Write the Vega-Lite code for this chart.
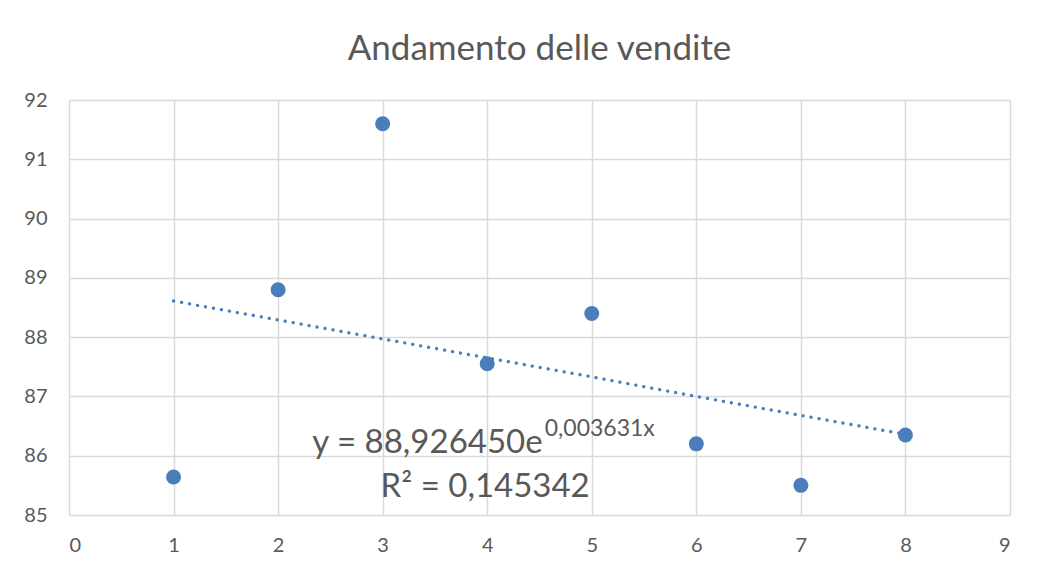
{
  "$schema": "https://vega.github.io/schema/vega-lite/v6.json",
  "width": 941,
  "height": 415,
  "autosize": {"type": "none"},
  "padding": {"left": 69, "top": 100, "right": 46, "bottom": 62},
  "background": "white",
  "title": {
    "text": "Andamento delle vendite",
    "font": "Lato",
    "fontSize": 35,
    "fontWeight": "normal",
    "color": "#595959",
    "anchor": "middle",
    "offset": 23
  },
  "config": {
    "view": {"stroke": null},
    "axis": {
      "labelFont": "Lato",
      "labelFontSize": 20,
      "labelColor": "#595959",
      "gridColor": "#d9d9d9",
      "gridWidth": 1.5,
      "domain": false,
      "ticks": false,
      "title": null,
      "format": "d"
    }
  },
  "datasets": {
    "pts": [
      {"x": 1, "y": 85.64},
      {"x": 2, "y": 88.8},
      {"x": 3, "y": 91.6},
      {"x": 4, "y": 87.55},
      {"x": 5, "y": 88.4},
      {"x": 6, "y": 86.2},
      {"x": 7, "y": 85.5},
      {"x": 8, "y": 86.35}
    ],
    "trend": [
      {"x": 1, "t": 88.61},
      {"x": 2, "t": 88.29},
      {"x": 3, "t": 87.97},
      {"x": 4, "t": 87.65},
      {"x": 5, "t": 87.33},
      {"x": 6, "t": 87.0},
      {"x": 7, "t": 86.68},
      {"x": 8, "t": 86.36}
    ]
  },
  "layer": [
    {
      "data": {"name": "trend"},
      "mark": {"type": "line", "color": "#4a7ebb", "strokeWidth": 3.3, "strokeCap": "round", "strokeDash": [0.1, 8]},
      "encoding": {
        "x": {"field": "x", "type": "quantitative", "scale": {"domain": [0, 9], "nice": false},
              "axis": {"values": [0,1,2,3,4,5,6,7,8,9], "labelPadding": 20, "grid": true}},
        "y": {"field": "t", "type": "quantitative", "scale": {"domain": [85, 92], "nice": false, "zero": false},
              "axis": {"values": [85,86,87,88,89,90,91,92], "labelPadding": 22, "grid": true}}
      }
    },
    {
      "data": {"name": "pts"},
      "mark": {"type": "circle", "color": "#4a7ebb", "opacity": 1, "size": 225},
      "encoding": {
        "x": {"field": "x", "type": "quantitative"},
        "y": {"field": "y", "type": "quantitative"}
      }
    },
    {
      "data": {"values": [{"label": "y = 88,926450e"}]},
      "mark": {"type": "text", "font": "Lato", "fontSize": 33, "color": "#595959", "align": "right", "baseline": "alphabetic"},
      "encoding": {
        "x": {"datum": 4.53, "type": "quantitative"},
        "y": {"datum": 86.05, "type": "quantitative"},
        "text": {"field": "label"}
      }
    },
    {
      "data": {"values": [{"label": "0,003631x"}]},
      "mark": {"type": "text", "font": "Lato", "fontSize": 23, "color": "#595959", "align": "left", "baseline": "alphabetic"},
      "encoding": {
        "x": {"datum": 4.55, "type": "quantitative"},
        "y": {"datum": 86.33, "type": "quantitative"},
        "text": {"field": "label"}
      }
    },
    {
      "data": {"values": [{"label": "R² = 0,145342"}]},
      "mark": {"type": "text", "font": "Lato", "fontSize": 33, "color": "#595959", "align": "center", "baseline": "alphabetic"},
      "encoding": {
        "x": {"datum": 3.98, "type": "quantitative"},
        "y": {"datum": 85.31, "type": "quantitative"},
        "text": {"field": "label"}
      }
    }
  ]
}
